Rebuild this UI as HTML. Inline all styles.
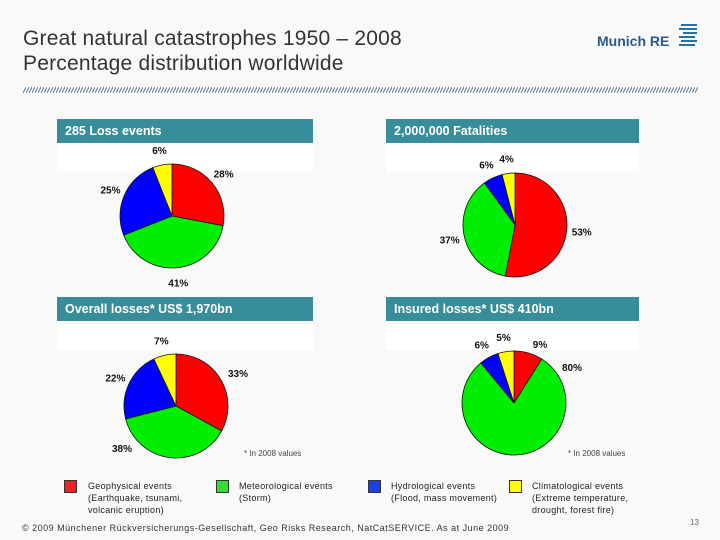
<!DOCTYPE html>
<html><head><meta charset="utf-8"><style>
body{margin:0;background:#fff}
#page{position:relative;width:720px;height:540px;background:#f9f9f9;overflow:hidden;font-family:"Liberation Sans",sans-serif}
.t{position:absolute;white-space:nowrap}
.bar{position:absolute;height:24px;background:#378d99;color:#fff;font-size:12.5px;font-weight:bold;line-height:24px;padding-left:8px;box-sizing:border-box}
.wb{position:absolute;background:#fff}
.sq{position:absolute;width:13px;height:13px;border:1px solid #333;box-sizing:border-box}
.lg{position:absolute;font-size:9px;line-height:12px;color:#222;letter-spacing:0.3px;white-space:nowrap}
</style></head><body>
<div id="page">
<div class="t" style="left:23px;top:26px;font-size:21px;line-height:25px;color:#333;letter-spacing:0.2px">Great natural catastrophes 1950 – 2008<br>Percentage distribution worldwide</div>
<div class="t" style="left:597px;top:33px;font-size:14px;font-weight:bold;color:#2a5a8c">Munich RE</div>
<svg style="position:absolute;left:677px;top:23px" width="22" height="26"><g stroke="#2a6fa0" stroke-width="2"><line x1="4" y1="2" x2="20" y2="2"/><line x1="2" y1="6" x2="20" y2="6"/><line x1="6" y1="10" x2="20" y2="10"/><line x1="2" y1="14" x2="18" y2="14"/><line x1="4" y1="18" x2="20" y2="18"/><line x1="2" y1="22" x2="18" y2="22"/></g></svg>
<svg style="position:absolute;left:23px;top:87px" width="675" height="6"><defs><pattern id="h" width="3" height="6" patternUnits="userSpaceOnUse"><line x1="0" y1="6" x2="3" y2="0" stroke="#5a7a95" stroke-width="1"/></pattern></defs><rect width="675" height="6" fill="url(#h)"/></svg>

<div class="wb" style="left:57px;top:143px;width:256px;height:29px"></div>
<div class="wb" style="left:386px;top:143px;width:253px;height:29px"></div>
<div class="wb" style="left:57px;top:321px;width:256px;height:29px"></div>
<div class="wb" style="left:386px;top:321px;width:253px;height:29px"></div>
<div class="bar" style="left:57px;top:119px;width:256px">285 Loss events</div>
<div class="bar" style="left:386px;top:119px;width:253px">2,000,000 Fatalities</div>
<div class="bar" style="left:57px;top:297px;width:256px">Overall losses* US$ 1,970bn</div>
<div class="bar" style="left:386px;top:297px;width:253px">Insured losses* US$ 410bn</div>

<svg id="pies" style="position:absolute;left:0;top:0" width="720" height="540"></svg>

<div class="t" style="left:244px;top:449px;font-size:8px;color:#444">* In 2008 values</div>
<div class="t" style="left:568px;top:449px;font-size:8px;color:#444">* In 2008 values</div>

<div class="sq" style="left:64px;top:480px;background:#ee2222"></div>
<div class="lg" style="left:88px;top:480px">Geophysical events<br>(Earthquake, tsunami,<br>volcanic eruption)</div>
<div class="sq" style="left:216px;top:480px;background:#33dd33"></div>
<div class="lg" style="left:239px;top:480px">Meteorological events<br>(Storm)</div>
<div class="sq" style="left:368px;top:480px;background:#1a3ee8"></div>
<div class="lg" style="left:391px;top:480px">Hydrological events<br>(Flood, mass movement)</div>
<div class="sq" style="left:509px;top:480px;background:#ffff00"></div>
<div class="lg" style="left:532px;top:480px">Climatological events<br>(Extreme temperature,<br>drought, forest fire)</div>

<div class="t" style="left:22px;top:523px;font-size:9px;color:#333;letter-spacing:0.5px">© 2009 Münchener Rückversicherungs-Gesellschaft, Geo Risks Research, NatCatSERVICE. As at June 2009</div>
<div class="t" style="left:690px;top:518px;font-size:8px;color:#666">13</div>
</div>
<script>
const lossEvents=[28,41,25,6];
const fatalities=[53,37,6,4];
const overallLosses=[33,38,22,7];
const insuredLosses=[9,80,6,5];
const colors=['#ff0000','#00ee00','#0000ff','#ffff00'];
const names=['geophysical','meteorological','hydrological','climatological'];
const pies=[
 {id:'loss-events',vals:lossEvents,cx:172,cy:216,lab:{}},
 {id:'fatalities',vals:fatalities,cx:515,cy:225,lab:{}},
 {id:'overall-losses',vals:overallLosses,cx:176,cy:406,lab:{1:[122,448],0:[238,373]}},
 {id:'insured-losses',vals:insuredLosses,cx:514,cy:403,lab:{1:[572,367],0:[540,344]}}
];
const R=52,NS='http://www.w3.org/2000/svg';
const svg=document.getElementById('pies');
function pt(cx,cy,r,f){const a=f*2*Math.PI;return[cx+r*Math.sin(a),cy-r*Math.cos(a)];}
pies.forEach(p=>{
 const g=document.createElementNS(NS,'g');
 
 
 svg.appendChild(g);
 const tot=p.vals.reduce((a,b)=>a+b,0);let acc=0;
 p.vals.forEach((v,i)=>{
  const f0=acc/tot,f1=(acc+v)/tot;acc+=v;
  const [x0,y0]=pt(p.cx,p.cy,R,f0),[x1,y1]=pt(p.cx,p.cy,R,f1);
  const path=document.createElementNS(NS,'path');
  path.setAttribute('d',`M${p.cx},${p.cy}L${x0},${y0}A${R},${R} 0 ${f1-f0>0.5?1:0} 1 ${x1},${y1}Z`);
  path.setAttribute('fill',colors[i]);path.setAttribute('stroke','#111');path.setAttribute('stroke-width','0.8');
  
  
  g.appendChild(path);
  let [lx,ly]=pt(p.cx,p.cy,R+15,(f0+f1)/2);
  if(p.lab[i]){lx=p.lab[i][0];ly=p.lab[i][1];}
  const t=document.createElementNS(NS,'text');
  t.setAttribute('x',lx);t.setAttribute('y',ly+4);t.setAttribute('text-anchor','middle');
  t.setAttribute('font-size','10');t.setAttribute('font-weight','bold');t.setAttribute('font-family','Liberation Sans, sans-serif');t.setAttribute('fill','#111');
  
  
  t.textContent=v+'%';g.appendChild(t);
 });
});
</script>
</body></html>
